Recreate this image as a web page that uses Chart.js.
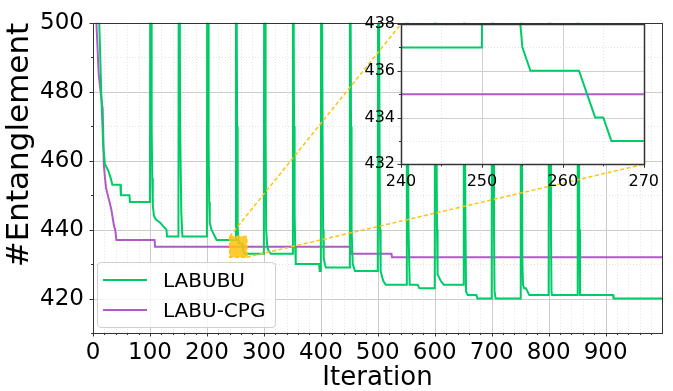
<!DOCTYPE html>
<html>
<head>
<meta charset="utf-8">
<script src="https://cdn.jsdelivr.net/npm/chart.js@4.4.1/dist/chart.umd.min.js"></script>
<style>
html,body{margin:0;padding:0;background:#fff;}
#wrap{position:relative;width:673px;height:391px;overflow:hidden;background:#fff;}
#main{position:absolute;left:0;top:0;}
#inset{position:absolute;left:345px;top:5px;}
#legend{position:absolute;left:97px;top:262px;width:179px;height:66px;box-sizing:border-box;border:1px solid #d0d0d0;border-radius:4px;background:rgba(255,255,255,0.8);font-family:'DejaVu Sans',sans-serif;font-size:20px;color:#000;}
.row{position:absolute;left:0;height:30px;display:flex;align-items:center;white-space:nowrap;}
.sw{width:44px;height:0;border-top:2px solid;margin-left:5px;margin-right:16px;}
</style>
</head>
<body>
<div id="wrap">
  <canvas id="main" width="673" height="391"></canvas>
  <canvas id="inset" width="322" height="195"></canvas>
  <div id="legend"></div>
</div>
<script>
// ---------------- data ----------------
const seriesNames = ['LABUBU', 'LABU-CPG'];

const labububIter = [
  0, 5, 11, 15, 18, 21, 24, 27, 31, 34, 48, 49, 64, 65, 100,
  101, 102, 103, 104, 105, 107, 110, 118, 123, 129, 130, 150,
  151, 152, 153, 155, 157, 200,
  201, 202, 203, 204, 205, 208, 211, 214, 217, 250,
  251, 252, 253, 254, 255, 256, 262, 263, 264, 265, 266, 300,
  301, 302, 303, 304, 306, 308, 312, 350,
  351, 352, 353, 354, 355, 356, 397, 398, 400,
  401, 402, 403, 404, 405, 407, 409, 450,
  451, 452, 453, 454, 456, 460, 500,
  501, 502, 503, 504, 505, 508, 510, 514, 550,
  551, 552, 553, 554, 556, 570, 573, 600,
  601, 602, 603, 604, 605, 608, 611, 616, 650,
  651, 652, 653, 654, 655, 658, 673, 675, 700,
  701, 702, 703, 704, 705, 707, 750,
  751, 752, 753, 754, 755, 757, 760, 763, 766, 800,
  801, 802, 803, 804, 805, 806, 850,
  851, 852, 853, 854, 855, 913, 914, 999
];
const labububVal = [
  600, 540, 500, 477, 464, 459, 458, 457, 455, 453, 453, 450, 450, 448, 448,
  600, 520, 470, 455, 447, 444, 443, 442, 441, 440, 438, 438,
  600, 520, 470, 445, 438, 438,
  600, 520, 465, 448, 442, 440, 439, 438, 437, 437,
  600, 520, 470, 441, 437, 436, 436, 435, 434, 434, 433, 433,
  600, 520, 470, 440, 435, 434, 433, 433,
  600, 520, 470, 445, 435, 430, 430, 428, 428,
  600, 520, 470, 440, 432, 430, 429, 429,
  600, 520, 470, 440, 430, 428, 428,
  600, 520, 470, 440, 428, 426, 425, 424, 424,
  600, 520, 470, 440, 424, 424, 423, 423,
  600, 520, 470, 440, 427, 426, 425, 424, 424,
  600, 520, 470, 440, 422, 421, 421, 420, 420,
  600, 520, 470, 440, 422, 420, 420,
  600, 520, 470, 430, 424, 423, 423, 422, 421, 421,
  600, 520, 470, 440, 422, 421, 421,
  600, 520, 470, 440, 421, 421, 420, 420
];

const cpgIter = [0, 6, 10, 14, 17, 19, 21, 23, 26, 29, 32, 35, 37, 39, 41, 108, 109, 452, 453, 524, 525, 999];
const cpgVal  = [600, 500, 485, 479, 475, 459, 455, 452, 450, 448, 446, 443, 441, 440, 437, 437, 435, 435, 433, 433, 432, 432];

// axis ranges / ticks
const mainX = [0, 999];
const mainY = [410, 500];
const xLabelTicks = [0, 100, 200, 300, 400, 500, 600, 700, 800, 900];
const yLabelTicks = [420, 440, 460, 480, 500];
const zoomX = [240, 270];
const zoomY = [432, 438];
const insetXLabelTicks = [240, 250, 260, 270];
const insetYLabelTicks = [432, 434, 436, 438];

// ---------------- styling ----------------
const FONT = "'DejaVu Sans', 'Liberation Sans', sans-serif";
const GREEN = '#00cc66';
const PURPLE = '#ae5bc6';
const GOLD = '#ffc20e';

function pts(xs, ys) { return xs.map((x, i) => ({ x: x, y: ys[i] })); }

function makeDatasets(w) {
  return [
    { label: seriesNames[0], data: pts(labububIter, labububVal), borderColor: GREEN, borderWidth: w, pointRadius: 0, tension: 0, fill: false },
    { label: seriesNames[1], data: pts(cpgIter, cpgVal), borderColor: PURPLE, borderWidth: w, pointRadius: 0, tension: 0, fill: false }
  ];
}

// grid / spines / tick marks drawn from the chart's own scales
const deco = {
  id: 'deco',
  beforeDraw(chart, args, o) {
    if (!o.fillArea) return;
    const a = chart.chartArea, ctx = chart.ctx;
    ctx.save(); ctx.fillStyle = '#fff';
    ctx.fillRect(a.left, a.top, a.right - a.left, a.bottom - a.top);
    ctx.restore();
  },
  beforeDatasetsDraw(chart, args, o) {
    const { ctx, chartArea: a, scales: { x, y } } = chart;
    ctx.save();
    ctx.lineWidth = 1;
    for (const pass of ['minor', 'major']) {
      for (const t of x.ticks) {
        const major = o.xMajor.includes(t.value);
        if ((pass === 'major') !== major) continue;
        const p = Math.round(x.getPixelForValue(t.value)) + 0.5;
        ctx.strokeStyle = major ? o.majorColor : o.minorColor;
        ctx.setLineDash(major ? [] : o.minorDash);
        ctx.beginPath(); ctx.moveTo(p, a.top); ctx.lineTo(p, a.bottom); ctx.stroke();
      }
      for (const t of y.ticks) {
        const major = o.yMajor.includes(t.value);
        if ((pass === 'major') !== major) continue;
        const p = Math.round(y.getPixelForValue(t.value)) + 0.5;
        ctx.strokeStyle = major ? o.majorColor : o.minorColor;
        ctx.setLineDash(major ? [] : o.minorDash);
        ctx.beginPath(); ctx.moveTo(a.left, p); ctx.lineTo(a.right, p); ctx.stroke();
      }
    }
    ctx.restore();
  },
  afterDraw(chart, args, o) {
    const { ctx, chartArea: a, scales: { x, y } } = chart;
    ctx.save();
    ctx.strokeStyle = o.spineColor;
    ctx.lineWidth = 1;
    ctx.setLineDash([]);
    for (const t of x.ticks) {
      const p = Math.round(x.getPixelForValue(t.value)) + 0.5;
      const L = o.xMajor.includes(t.value) ? o.majLen : o.minLen;
      ctx.beginPath(); ctx.moveTo(p, a.bottom); ctx.lineTo(p, a.bottom + L); ctx.stroke();
    }
    for (const t of y.ticks) {
      const p = Math.round(y.getPixelForValue(t.value)) + 0.5;
      const L = o.yMajor.includes(t.value) ? o.majLen : o.minLen;
      ctx.beginPath(); ctx.moveTo(a.left, p); ctx.lineTo(a.left - L, p); ctx.stroke();
    }
    ctx.lineWidth = o.spineWidth;
    ctx.strokeRect(Math.round(a.left) + 0.5, Math.round(a.top) + 0.5, Math.round(a.right - a.left), Math.round(a.bottom - a.top));
    ctx.restore();
  }
};

// ---------------- inset ----------------
const insetCanvas = document.getElementById('inset');
const insetChart = new Chart(insetCanvas, {
  type: 'line',
  data: { datasets: makeDatasets(2) },
  plugins: [deco],
  options: {
    responsive: false, animation: false, events: [], devicePixelRatio: 1,
    layout: { padding: { left: 0, right: 10, top: 19, bottom: 0 } },
    plugins: {
      legend: { display: false }, tooltip: { enabled: false },
      deco: { fillArea: true, xMajor: insetXLabelTicks, yMajor: insetYLabelTicks, majorColor: '#d0d0d0', minorColor: '#e4e4e4', minorDash: [1, 2], spineColor: '#333', spineWidth: 1.5, majLen: 3.5, minLen: 2 }
    },
    scales: {
      x: {
        type: 'linear', min: zoomX[0], max: zoomX[1],
        afterFit(s) { s.height = 35.7; },
        grid: { display: false, drawTicks: false }, border: { display: false },
        ticks: { stepSize: 5, autoSkip: false, maxRotation: 0, padding: 8, color: '#000', font: { family: FONT, size: 16 },
          callback: v => insetXLabelTicks.includes(v) ? String(v) : '' }
      },
      y: {
        type: 'linear', min: zoomY[0], max: zoomY[1],
        afterFit(s) { s.width = 56; },
        grid: { display: false, drawTicks: false }, border: { display: false },
        ticks: { stepSize: 1, autoSkip: false, padding: 6, color: '#000', font: { family: FONT, size: 16 },
          callback: v => insetYLabelTicks.includes(v) ? String(v) : '' }
      }
    }
  }
});

// zoom box + connectors, positioned with the main scales and the inset's chart area
const zoomMark = {
  id: 'zoomMark',
  afterDatasetsDraw(chart) {
    const { ctx, scales: { x, y } } = chart;
    const x0 = x.getPixelForValue(zoomX[0]), x1 = x.getPixelForValue(zoomX[1]);
    const y0 = y.getPixelForValue(zoomY[1]), y1 = y.getPixelForValue(zoomY[0]);
    const ia = insetChart.chartArea;
    const ox = insetCanvas.offsetLeft, oy = insetCanvas.offsetTop;
    ctx.save();
    ctx.fillStyle = 'rgba(255,194,14,0.85)';
    ctx.fillRect(x0, y0, x1 - x0, y1 - y0);
    ctx.strokeStyle = GOLD; ctx.lineWidth = 1.5; ctx.setLineDash([4, 2.5]);
    ctx.strokeRect(x0, y0, x1 - x0, y1 - y0);
    ctx.beginPath(); ctx.moveTo(x0, y0); ctx.lineTo(ox + ia.left, oy + ia.top); ctx.stroke();
    ctx.beginPath(); ctx.moveTo(x1, y1); ctx.lineTo(ox + ia.right, oy + ia.bottom); ctx.stroke();
    ctx.restore();
  }
};

// ---------------- main ----------------
const mainChart = new Chart(document.getElementById('main'), {
  type: 'line',
  data: { datasets: makeDatasets(2) },
  plugins: [deco, zoomMark],
  options: {
    responsive: false, animation: false, events: [], devicePixelRatio: 1,
    layout: { padding: { left: 0, right: 11, top: 19, bottom: 0 } },
    plugins: {
      legend: { display: false }, tooltip: { enabled: false },
      deco: { fillArea: false, xMajor: xLabelTicks, yMajor: yLabelTicks, majorColor: '#cccccc', minorColor: '#e2e2e2', minorDash: [1, 2], spineColor: '#333', spineWidth: 1, majLen: 3.5, minLen: 2 }
    },
    scales: {
      x: {
        type: 'linear', min: mainX[0], max: mainX[1],
        afterFit(s) { s.height = 58; },
        grid: { display: false, drawTicks: false }, border: { display: false },
        ticks: { stepSize: 20, includeBounds: false, autoSkip: false, maxRotation: 0, padding: 6, color: '#000', font: { family: FONT, size: 23 },
          callback: v => xLabelTicks.includes(v) ? String(v) : '' },
        title: { display: true, text: 'Iteration', color: '#000', font: { family: FONT, size: 26 }, padding: { top: 0, bottom: -3 } }
      },
      y: {
        type: 'linear', min: mainY[0], max: mainY[1],
        afterFit(s) { s.width = 93; },
        grid: { display: false, drawTicks: false }, border: { display: false },
        ticks: { stepSize: 10, autoSkip: false, padding: 9, color: '#000', font: { family: FONT, size: 23 },
          callback: v => yLabelTicks.includes(v) ? String(v) : '' },
        title: { display: true, text: '#Entanglement', align: 'end', color: '#000', font: { family: FONT, size: 31 }, padding: { top: 1, bottom: 0 } }
      }
    }
  }
});

// legend (HTML text) built from the datasets
const lg = document.getElementById('legend');
mainChart.data.datasets.forEach((d, i) => {
  const row = document.createElement('div');
  row.className = 'row';
  row.style.top = (2 + i * 30) + 'px';
  const sw = document.createElement('span');
  sw.className = 'sw'; sw.style.borderTopColor = d.borderColor;
  const tx = document.createElement('span');
  tx.textContent = d.label;
  row.appendChild(sw); row.appendChild(tx);
  lg.appendChild(row);
});
</script>
</body>
</html>
